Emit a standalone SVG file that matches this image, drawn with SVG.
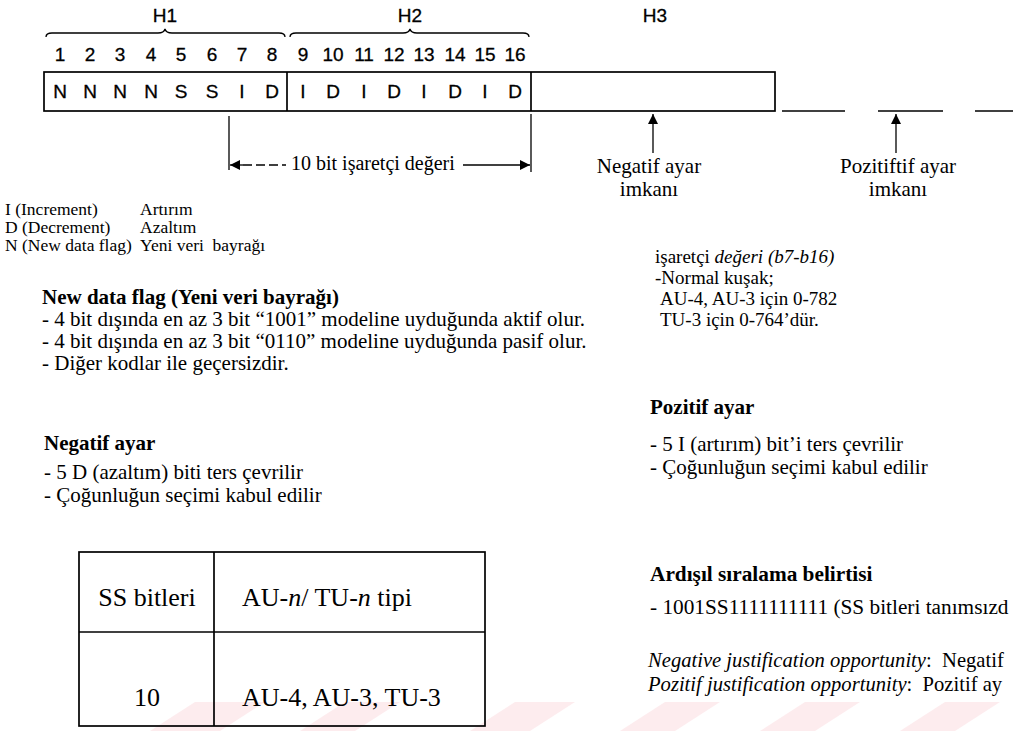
<svg xmlns="http://www.w3.org/2000/svg" width="1013" height="731" viewBox="0 0 1013 731">
  <style>
    .bit { font-family: "Liberation Sans", Arial, sans-serif; font-size: 19px; fill: #000; stroke: #000; stroke-width: 0.3; text-anchor: middle; }
    .serif { font-family: "Liberation Serif", "Times New Roman", serif; font-size: 21px; fill: #000; }
    .lg { font-size: 17.5px; }
    .up { font-size: 19px; }
    .big { font-size: 21.3px; }
    .note { font-size: 20.6px; }
    .bold { font-weight: bold; }
    .ital { font-style: italic; }
    .mid { text-anchor: middle; }
    .cell { font-family: "Liberation Serif", "Times New Roman", serif; font-size: 26px; fill: #000; }
    .ln { stroke: #000; stroke-width: 1.3; fill: none; }
    .box { stroke: #000; stroke-width: 1.7; fill: none; }
    .wm { fill: #fbdde0; opacity: 0.55; }
  </style>
  <defs>
    <marker id="tri" viewBox="0 0 10 10" refX="10" refY="5" markerWidth="11" markerHeight="10" markerUnits="userSpaceOnUse" orient="auto">
      <path d="M0,0 L10,5 L0,10 Z" fill="#000"/>
    </marker>
  </defs>
  <rect width="1013" height="731" fill="#fff"/>

  <!-- faint watermark bands along the bottom -->
  <g id="watermark">
    <polygon class="wm" points="150,731 195,702 265,702 220,731"/>
    <polygon class="wm" points="300,731 345,702 400,702 355,731"/>
    <polygon class="wm" points="470,731 515,702 575,702 530,731"/>
    <polygon class="wm" points="620,731 665,702 720,702 675,731"/>
    <polygon class="wm" points="760,731 805,702 860,702 815,731"/>
    <polygon class="wm" points="900,731 945,702 1000,702 955,731"/>
  </g>

  <!-- group labels and braces -->
  <g id="header">
    <text class="bit" x="165" y="22">H1</text>
    <text class="bit" x="410" y="22">H2</text>
    <text class="bit" x="655" y="22">H3</text>
    <path class="ln" d="M46,37 Q46,33 52,33 L158,33 Q164,33 165,29 Q166,33 172,33 L279,33 Q285,33 285,37"/>
    <path class="ln" d="M290,37 Q290,33 296,33 L403,33 Q409,33 410,29 Q411,33 417,33 L523,33 Q529,33 529,37"/>
  </g>

  <!-- bit numbers -->
  <g id="bit-numbers">
    <text class="bit" x="60" y="61">1</text>
    <text class="bit" x="90" y="61">2</text>
    <text class="bit" x="120" y="61">3</text>
    <text class="bit" x="151" y="61">4</text>
    <text class="bit" x="181" y="61">5</text>
    <text class="bit" x="212" y="61">6</text>
    <text class="bit" x="242" y="61">7</text>
    <text class="bit" x="272" y="61">8</text>
    <text class="bit" x="303" y="61">9</text>
    <text class="bit" x="333" y="61">10</text>
    <text class="bit" x="364" y="61">11</text>
    <text class="bit" x="394" y="61">12</text>
    <text class="bit" x="424" y="61">13</text>
    <text class="bit" x="455" y="61">14</text>
    <text class="bit" x="485" y="61">15</text>
    <text class="bit" x="515" y="61">16</text>
  </g>

  <!-- pointer bytes H1, H2 and H3 -->
  <g id="frame">
    <rect class="box" x="44" y="72" width="731" height="39"/>
    <line class="box" x1="287" y1="72" x2="287" y2="111"/>
    <line class="box" x1="531" y1="72" x2="531" y2="111"/>
    <text class="bit" x="60" y="98">N</text>
    <text class="bit" x="90" y="98">N</text>
    <text class="bit" x="120" y="98">N</text>
    <text class="bit" x="151" y="98">N</text>
    <text class="bit" x="181" y="98">S</text>
    <text class="bit" x="212" y="98">S</text>
    <text class="bit" x="242" y="98">I</text>
    <text class="bit" x="272" y="98">D</text>
    <text class="bit" x="303" y="98">I</text>
    <text class="bit" x="333" y="98">D</text>
    <text class="bit" x="364" y="98">I</text>
    <text class="bit" x="394" y="98">D</text>
    <text class="bit" x="424" y="98">I</text>
    <text class="bit" x="455" y="98">D</text>
    <text class="bit" x="485" y="98">I</text>
    <text class="bit" x="515" y="98">D</text>
  </g>

  <!-- following bytes, arrows and the pointer span -->
  <g id="connectors">
    <line class="ln" x1="782" y1="111" x2="845" y2="111"/>
    <line class="ln" x1="878" y1="111" x2="943" y2="111"/>
    <line class="ln" x1="975" y1="111" x2="1013" y2="111"/>
    <line class="ln" x1="653" y1="153" x2="653" y2="114" marker-end="url(#tri)"/>
    <line class="ln" x1="896" y1="153" x2="896" y2="114" marker-end="url(#tri)"/>
    <line class="ln" x1="229" y1="116" x2="229" y2="170"/>
    <line class="ln" x1="531" y1="114" x2="531" y2="172"/>
    <line class="ln" x1="243" y1="165" x2="230" y2="165" marker-end="url(#tri)"/>
    <line class="ln" x1="243" y1="165" x2="286" y2="165" stroke-dasharray="9,4"/>
    <line class="ln" x1="463" y1="165" x2="530" y2="165" marker-end="url(#tri)"/>
  </g>

  <g id="arrow-labels">
    <text class="serif mid" x="649" y="173">Negatif ayar</text>
    <text class="serif mid" x="649" y="196">imkanı</text>
    <text class="serif mid" x="898" y="173">Pozitiftif ayar</text>
    <text class="serif mid" x="898" y="196">imkanı</text>
    <text class="serif" x="291" y="170" style="font-size:20px">10 bit işaretçi değeri</text>
  </g>

  <g id="legend">
    <text class="serif lg" x="5" y="215">I (Increment)</text>
    <text class="serif lg" x="5" y="233">D (Decrement)</text>
    <text class="serif lg" x="5" y="251">N (New data flag)</text>
    <text class="serif lg" x="140" y="215">Artırım</text>
    <text class="serif lg" x="140" y="233">Azaltım</text>
    <text class="serif lg" x="140" y="251" xml:space="preserve">Yeni veri  bayrağı</text>
  </g>

  <g id="new-data-flag">
    <text class="serif bold" x="42" y="304">New data flag (Yeni veri bayrağı)</text>
    <text class="serif" x="42" y="326">- 4 bit dışında en az 3 bit “1001” modeline uyduğunda aktif olur.</text>
    <text class="serif" x="42" y="348">- 4 bit dışında en az 3 bit “0110” modeline uyduğunda pasif olur.</text>
    <text class="serif" x="42" y="370">- Diğer kodlar ile geçersizdir.</text>
  </g>

  <g id="pointer-value">
    <text class="serif up" x="655" y="263">işaretçi <tspan class="ital">değeri (b7-b16)</tspan></text>
    <text class="serif up" x="655" y="284">-Normal kuşak;</text>
    <text class="serif up" x="660" y="305">AU-4, AU-3 için 0-782</text>
    <text class="serif up" x="660" y="326">TU-3 için 0-764’dür.</text>
  </g>

  <g id="negative-justification">
    <text class="serif bold" x="44" y="450">Negatif ayar</text>
    <text class="serif" x="44" y="479">- 5 D (azaltım) biti ters çevrilir</text>
    <text class="serif" x="44" y="502">- Çoğunluğun seçimi kabul edilir</text>
  </g>

  <g id="positive-justification">
    <text class="serif bold" x="650" y="414">Pozitif ayar</text>
    <text class="serif" x="650" y="451">- 5 I (artırım) bit’i ters çevrilir</text>
    <text class="serif" x="650" y="474">- Çoğunluğun seçimi kabul edilir</text>
  </g>

  <g id="concatenation">
    <text class="serif big bold" x="650" y="581">Ardışıl sıralama belirtisi</text>
    <text class="serif big" x="650" y="614">- 1001SS1111111111 (SS bitleri tanımsızd</text>
    <text class="serif note" x="648" y="667" xml:space="preserve"><tspan class="ital">Negative justification opportunity</tspan>:  Negatif</text>
    <text class="serif note" x="648" y="691" xml:space="preserve"><tspan class="ital">Pozitif justification opportunity</tspan>:  Pozitif ay</text>
  </g>

  <g id="ss-table">
    <rect class="box" x="79" y="552" width="406" height="174"/>
    <line class="box" x1="214" y1="552" x2="214" y2="726"/>
    <line class="box" x1="79" y1="632" x2="485" y2="632"/>
    <text class="cell mid" x="147" y="606">SS bitleri</text>
    <text class="cell" x="242" y="606">AU-<tspan class="ital">n</tspan>/ TU-<tspan class="ital">n</tspan> tipi</text>
    <text class="cell mid" x="147" y="706">10</text>
    <text class="cell" x="242" y="706">AU-4, AU-3, TU-3</text>
  </g>
</svg>
